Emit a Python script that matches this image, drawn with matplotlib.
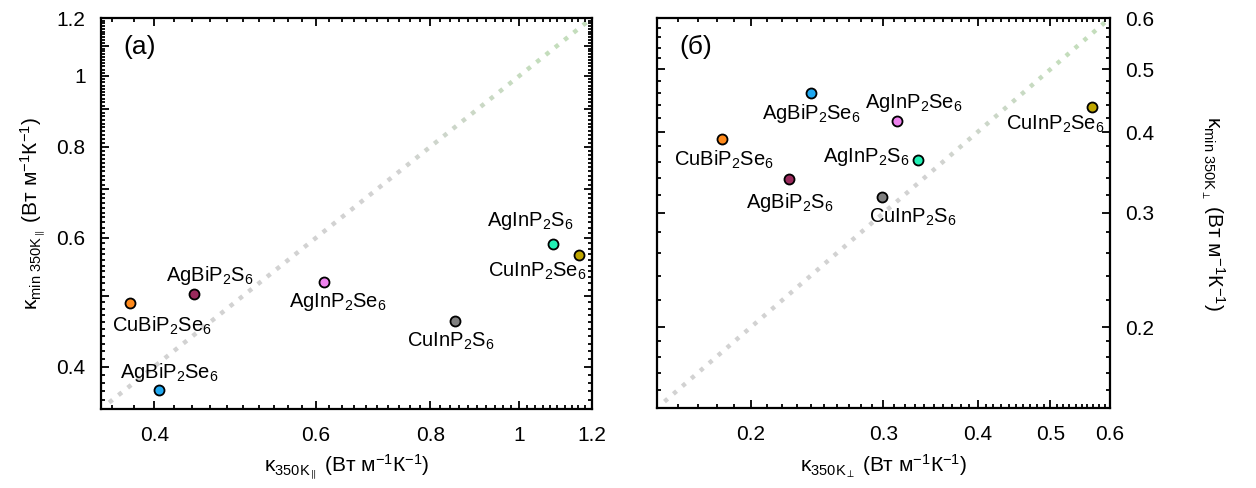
import numpy as np
import matplotlib
matplotlib.use("Agg")
import matplotlib.pyplot as plt
from matplotlib.ticker import FixedLocator, FixedFormatter, NullFormatter
from matplotlib.collections import LineCollection
from matplotlib.colors import to_rgb

plt.rcParams['font.family'] = ['Liberation Sans', 'DejaVu Sans']
plt.rcParams['mathtext.fontset'] = 'custom'
plt.rcParams['mathtext.rm'] = 'Liberation Sans'
plt.rcParams['mathtext.it'] = 'Liberation Sans:italic'
plt.rcParams['mathtext.bf'] = 'Liberation Sans:bold'
plt.rcParams['mathtext.sf'] = 'Liberation Sans'

# ---------------- data ----------------
compounds = ["CuBiP2Se6", "AgBiP2S6", "AgBiP2Se6", "AgInP2Se6",
             "CuInP2S6", "AgInP2S6", "CuInP2Se6"]
labels_tex = ["CuBiP$_2$Se$_6$", "AgBiP$_2$S$_6$", "AgBiP$_2$Se$_6$",
              "AgInP$_2$Se$_6$", "CuInP$_2$S$_6$", "AgInP$_2$S$_6$",
              "CuInP$_2$Se$_6$"]
colors = ["#ff8a1c", "#9a2a5c", "#20a8f0", "#ee82ee",
          "#7f7f7f", "#20f0b4", "#bfa600"]

# panel (a): parallel
k350_par = [0.376, 0.442, 0.405, 0.612, 0.850, 1.088, 1.161]
kmin_par = [0.489, 0.503, 0.372, 0.522, 0.462, 0.589, 0.569]
# panel (б): perpendicular
k350_perp = [0.183, 0.225, 0.240, 0.313, 0.299, 0.333, 0.567]
kmin_perp = [0.390, 0.338, 0.459, 0.416, 0.317, 0.362, 0.438]

# label offsets (points) relative to the markers
offs_a = [(23, -16.5), (11.5, 13), (7, 12), (10, -14.5), (-3, -14.5),
          (-16.5, 16.5), (-30, -12)]
offs_b = [(1.5, -15), (0, -16.5), (0.7, -14.5), (11.5, 13), (22, -14),
          (-37, 2), (-26, -13)]

lims_a = (0.35, 1.2)
lims_b = (0.15, 0.6)

fig = plt.figure(figsize=(12.56, 4.88), dpi=100)
ax1 = fig.add_axes([101/1256, 79/488, 491/1256, 391/488])
ax2 = fig.add_axes([657/1256, 80/488, 453/1256, 390/488])


def diag(ax, lims, ndash):
    lo, hi = np.log10(lims[0]), np.log10(lims[1])
    t = np.linspace(0.02, 0.985, ndash)
    half = 0.0035
    segs = []
    cols = []
    grey = np.array(to_rgb("#d2d2d2"))
    green = np.array(to_rgb("#c4ddbc"))
    for ti in t:
        a = 10 ** (lo + (ti - half) * (hi - lo))
        b = 10 ** (lo + (ti + half) * (hi - lo))
        segs.append([(a, a), (b, b)])
        f = np.clip((ti - 0.6) / 0.3, 0, 1)
        cols.append(grey * (1 - f) + green * f)
    lc = LineCollection(segs, colors=cols, linewidths=3.2, zorder=1,
                        capstyle='butt')
    ax.add_collection(lc)


def style(ax):
    for s in ax.spines.values():
        s.set_linewidth(1.6)
    ax.tick_params(which='both', direction='in', top=True, right=True,
                   labelsize=15, width=1.3)
    ax.tick_params(which='major', length=6)
    ax.tick_params(which='minor', length=3)
    ax.tick_params(axis='x', which='both', pad=12)
    ax.tick_params(axis='y', which='both', pad=11)


def points(ax, xs, ys, offs):
    for x, y, c, lab, o in zip(xs, ys, colors, labels_tex, offs):
        ax.plot([x], [y], 'o', ms=7.2, mfc=c, mec='black', mew=1.3,
                zorder=3)
        ax.annotate(lab, (x, y), xytext=o, textcoords='offset points',
                    ha='center', va='center', fontsize=14.5)


units = r" (Вт м$^{\mathrm{-1}}$К$^{\mathrm{-1}}$)"

# ---------- panel (a) ----------
ax1.set_xscale('log')
ax1.set_yscale('log')
ax1.set_xlim(*lims_a)
ax1.set_ylim(*lims_a)
diag(ax1, lims_a, 52)
points(ax1, k350_par, kmin_par, offs_a)
style(ax1)
xmaj_a = [0.4, 0.6, 0.8, 1.0, 1.2]
ax1.xaxis.set_major_locator(FixedLocator(xmaj_a))
ax1.xaxis.set_major_formatter(FixedFormatter(["0.4", "0.6", "0.8", "1", "1.2"]))
ax1.xaxis.set_minor_locator(FixedLocator(np.arange(0.36, 1.2, 0.02)))
ax1.xaxis.set_minor_formatter(NullFormatter())
ymaj_a = [0.4, 0.5, 0.6, 0.7, 0.8, 0.9, 1.0, 1.1, 1.2]
ax1.yaxis.set_major_locator(FixedLocator(ymaj_a))
ax1.yaxis.set_major_formatter(FixedFormatter(["0.4", "", "0.6", "", "0.8",
                                              "", "1", "", "1.2"]))
ax1.yaxis.set_minor_locator(FixedLocator(np.arange(0.36, 1.2, 0.01)))
ax1.yaxis.set_minor_formatter(NullFormatter())
ax1.set_xlabel(r"$\mathrm{\kappa}_{\mathrm{350K}_{\parallel}}$" + units,
               fontsize=15, labelpad=6)
ax1.set_ylabel(r"$\mathrm{\kappa}_{\mathrm{min\ 350K}_{\parallel}}$" + units,
               fontsize=15, labelpad=6)
ax1.text(0.045, 0.925, "(a)", transform=ax1.transAxes, fontsize=19,
         ha='left', va='center')

# ---------- panel (б) ----------
ax2.set_xscale('log')
ax2.set_yscale('log')
ax2.set_xlim(*lims_b)
ax2.set_ylim(*lims_b)
diag(ax2, lims_b, 50)
points(ax2, k350_perp, kmin_perp, offs_b)
style(ax2)
ax2.tick_params(which='both', labelleft=False, labelright=True)
maj_b = [0.2, 0.3, 0.4, 0.5, 0.6]
lab_b = ["0.2", "0.3", "0.4", "0.5", "0.6"]
ax2.xaxis.set_major_locator(FixedLocator(maj_b))
ax2.xaxis.set_major_formatter(FixedFormatter(lab_b))
ax2.xaxis.set_minor_locator(FixedLocator(np.arange(0.15, 0.6, 0.01)))
ax2.xaxis.set_minor_formatter(NullFormatter())
ax2.yaxis.set_major_locator(FixedLocator(maj_b))
ax2.yaxis.set_major_formatter(FixedFormatter(lab_b))
ax2.yaxis.set_minor_locator(FixedLocator(np.concatenate(
    [np.arange(0.15, 0.2, 0.01), np.arange(0.22, 0.6, 0.02)])))
ax2.yaxis.set_minor_formatter(NullFormatter())
ax2.yaxis.set_label_position('right')
ax2.set_xlabel(r"$\mathrm{\kappa}_{\mathrm{350K}_{\perp}}$" + units,
               fontsize=15, labelpad=6)
ax2.set_ylabel(r"$\mathrm{\kappa}_{\mathrm{min\ 350K}_{\perp}}$" + units,
               fontsize=15, labelpad=52, rotation=270)
ax2.text(0.05, 0.925, "(б)", transform=ax2.transAxes, fontsize=19,
         ha='left', va='center')

fig.savefig("out.png", dpi=100)
